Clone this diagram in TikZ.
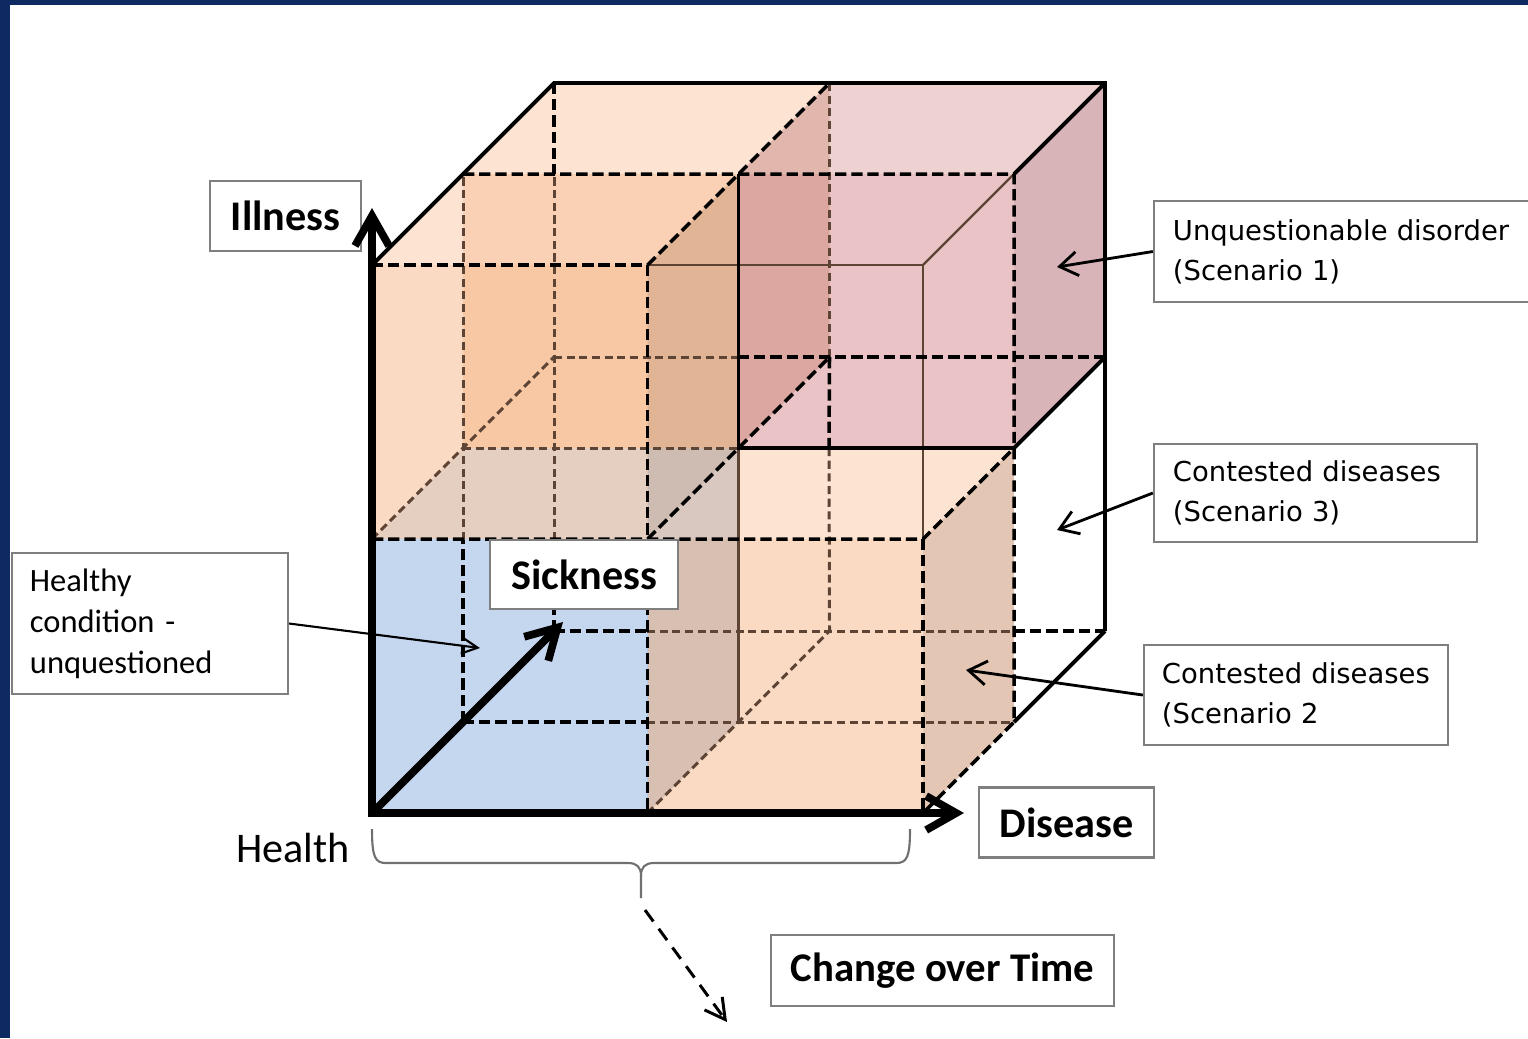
\documentclass[tikz,border=0pt]{standalone}
\usepackage{fontspec}
\setmainfont{Carlito}
\newfontfamily\scenariofont{DejaVu Sans}
\usetikzlibrary{arrows.meta}

\definecolor{frame}{HTML}{0F2A62}
\definecolor{boxgrey}{HTML}{7F7F7F}
\definecolor{bracegrey}{HTML}{707070}
\definecolor{hiddenbrown}{HTML}{5E4434}
\definecolor{peachfront}{RGB}{247,183,137}
\definecolor{peachtop}{RGB}{251,201,167}
\definecolor{peachside}{RGB}{201,143,107}
\definecolor{pinkfront}{RGB}{213,137,141}
\definecolor{pinktop}{RGB}{223,167,167}
\definecolor{pinkside}{RGB}{179,107,115}
\definecolor{bluefront}{RGB}{141,177,225}
\definecolor{bluetop}{RGB}{171,211,247}
\definecolor{blueside}{RGB}{115,147,183}

\begin{document}
\begin{tikzpicture}[x=0.01cm, y=-0.01cm,
    cubeface/.style={fill=#1, fill opacity=0.5},
    cubeline/.style={black, line width=1pt, dash pattern=on 3.2pt off 1.4pt},
    hiddenline/.style={hiddenbrown, line width=0.85pt, dash pattern=on 2.3pt off 1.3pt},
    rimline/.style={black, line width=1.1pt},
    thinline/.style={hiddenbrown, line width=0.65pt},
    labelbox/.style={rectangle, draw=boxgrey, line width=0.6pt, fill=white, inner sep=0pt},
    bigfont/.style={font=\fontsize{12}{14}\selectfont\bfseries},
    scenario/.style={labelbox, align=left, font=\scenariofont\fontsize{7.8}{11.4}\selectfont},
    pointer/.style={line width=0.8pt, -{Straight Barb[length=1.8mm, width=2.4mm]}}]
    \useasboundingbox (0,0) rectangle (1528,1038);
    \clip (0,0) rectangle (1528,1038);
    \fill[frame] (0,0) rectangle (1528,1038);
    \fill[white] (10,5) rectangle (1528,1038);

    % Grid of the cube
    \foreach \i in {0,1,2}
      \foreach \j in {0,1,2}
        \foreach \k in {0,1,2}
          \coordinate (g\i\j\k) at ({372+275.5*\i+91*\k},{813-274*\j-91*\k});

    % Faces
    % upper back left
    \fill[cubeface=peachfront] (g011) -- (g111) -- (g121) -- (g021) -- cycle;
    \fill[cubeface=peachtop] (g021) -- (g121) -- (g122) -- (g022) -- cycle;
    \fill[cubeface=peachside] (g111) -- (g112) -- (g122) -- (g121) -- cycle;
    % upper back right
    \fill[cubeface=pinkfront] (g111) -- (g211) -- (g221) -- (g121) -- cycle;
    \fill[cubeface=pinktop] (g121) -- (g221) -- (g222) -- (g122) -- cycle;
    \fill[cubeface=pinkside] (g211) -- (g212) -- (g222) -- (g221) -- cycle;
    % lower front left
    \fill[cubeface=bluefront] (g000) -- (g100) -- (g110) -- (g010) -- cycle;
    \fill[cubeface=bluetop] (g010) -- (g110) -- (g111) -- (g011) -- cycle;
    \fill[cubeface=blueside] (g100) -- (g101) -- (g111) -- (g110) -- cycle;
    % upper front left
    \fill[cubeface=peachfront] (g010) -- (g110) -- (g120) -- (g020) -- cycle;
    \fill[cubeface=peachtop] (g020) -- (g120) -- (g121) -- (g021) -- cycle;
    \fill[cubeface=peachside] (g110) -- (g111) -- (g121) -- (g120) -- cycle;
    % lower front right
    \fill[cubeface=peachfront] (g100) -- (g200) -- (g210) -- (g110) -- cycle;
    \fill[cubeface=peachtop] (g110) -- (g210) -- (g211) -- (g111) -- cycle;
    \fill[cubeface=peachside] (g200) -- (g201) -- (g211) -- (g210) -- cycle;

    % Edges
    \draw[hiddenline] (463,540) -- (g021);
    \draw[hiddenline] (554,540) -- (554,174);
    \draw[hiddenline] (g010) -- (g012);
    \draw[hiddenline] (g011) -- (g111);
    \draw[hiddenline] (g012) -- (738,357);
    \draw[hiddenline] (g122) -- (g112);
    \draw[hiddenline] (829,448) -- (g102);
    \draw[hiddenline] (g100) -- (g102);
    \draw[hiddenline] (647,631) -- (1014,631);
    \draw[hiddenline] (647,722) -- (g201);
    \draw[thinline, line width=0.9pt] (g101) -- (g111);
    \draw[thinline] (g210) -- (g220) -- (g120);
    \draw[thinline] (g220) -- (g221);

    \draw[cubeline] (g021) -- (g221) -- (g201) -- (g200);
    \draw[cubeline] (g020) -- (g120) -- (g100);
    \draw[cubeline] (g010) -- (g210) -- (g211);
    \draw[cubeline] (g210) -- (g200);
    \draw[cubeline] (g120) -- (g122);
    \draw[cubeline] (g110) -- (g112);
    \draw[cubeline] (738,357) -- (g212);
    \draw[cubeline] (g112) -- (829,448);
    \draw[cubeline] (g022) -- (554,174);
    \draw[cubeline] (g002) -- (554,540);
    \draw[cubeline] (g002) -- (647,631);
    \draw[cubeline] (1014,631) -- (g202);
    \draw[cubeline] (g001) -- (647,722);
    \draw[cubeline] (g001) -- (463,540);

    \draw[rimline] (g020) -- (g022) -- (g222) -- (g202);
    \draw[rimline] (g221) -- (g222);
    \draw[rimline] (g211) -- (g212);
    \draw[rimline] (g201) -- (g202);
    \draw[rimline] (g121) -- (g111) -- (g211);

    % Nodes
    \node (illness) [labelbox, bigfont, minimum width=1.51cm, minimum height=0.70cm] at (285.5,216) {Illness};
    \node (sickness) [labelbox, bigfont, minimum width=1.88cm, minimum height=0.69cm] at (584,574.5) {Sickness};
    \node (disease) [labelbox, bigfont, minimum width=1.75cm, minimum height=0.70cm] at (1066.5,822.5) {Disease};
    \node (health) [anchor=base, font=\fontsize{12}{14}\selectfont] at (293,862) {Health};
    \node (time) [labelbox, font=\fontsize{11.6}{14}\selectfont\bfseries, minimum width=3.43cm, minimum height=0.71cm]
      at (942.5,970.5) {Change over Time};
    \node (healthy) [labelbox, minimum width=2.76cm, minimum height=1.41cm, text width=2.40cm, align=left,
      font=\fontsize{9.25}{11.7}\selectfont] at (150,623.5) {Healthy\\condition -\\unquestioned};
    \node (scen1) [scenario, minimum width=3.91cm, minimum height=1.01cm, text width=3.53cm] at (1349.5,251.5)
      {Unquestionable disorder\\(Scenario 1)};
    \node (scen3) [scenario, minimum width=3.23cm, minimum height=0.98cm, text width=2.85cm] at (1315.5,493)
      {Contested diseases\\(Scenario 3)};
    \node (scen2) [scenario, minimum width=3.04cm, minimum height=1.00cm, text width=2.68cm] at (1296,695)
      {Contested diseases\\(Scenario 2};
    \coordinate (illness-tip) at (372,208);
    \coordinate (disease-tip) at (964,813);
    \coordinate (sickness-tip) at (563,622);
    \coordinate (healthy-tip) at (480,648);
    \coordinate (scen1-tip) at (1057,267);
    \coordinate (scen3-tip) at (1057,530);
    \coordinate (scen2-tip) at (966,670);
    \coordinate (brace-tip) at (641,898);
    \coordinate (time-start) at (645,910);
    \coordinate (time-end) at (727,1022);

    % Arrow
    \draw[line width=2.2pt, {Straight Barb[length=3mm, width=3.4mm]}-{Straight Barb[length=3mm, width=3.4mm]}]
      (illness-tip) -- (g000) -- (disease-tip);
    \draw[line width=2.2pt, -{Straight Barb[length=3mm, width=3.4mm]}] (g000) -- (sickness-tip);
    \draw[line width=0.6pt, -{Straight Barb[length=1.6mm, width=1.6mm]}] (healthy.east) -- (healthy-tip);
    \draw[pointer] (scen1.west) -- (scen1-tip);
    \draw[pointer] (scen3.west) -- (scen3-tip);
    \draw[pointer] (scen2.west) -- (scen2-tip);
    \draw[bracegrey, line width=0.6pt] (372,829) .. controls (372,857) and (375,863) .. (386,863) -- (628,863)
      .. controls (637,863) and (641,867) .. (641,876) -- (brace-tip);
    \draw[bracegrey, line width=0.6pt] (641,876) .. controls (641,867) and (645,863) .. (654,863) -- (896,863)
      .. controls (907,863) and (910,857) .. (910,829);
    \draw[line width=0.85pt, dash pattern=on 4pt off 2.6pt, -{Straight Barb[length=2mm, width=2.2mm]}]
      (time-start) -- (time-end);
\end{tikzpicture}
\end{document}
